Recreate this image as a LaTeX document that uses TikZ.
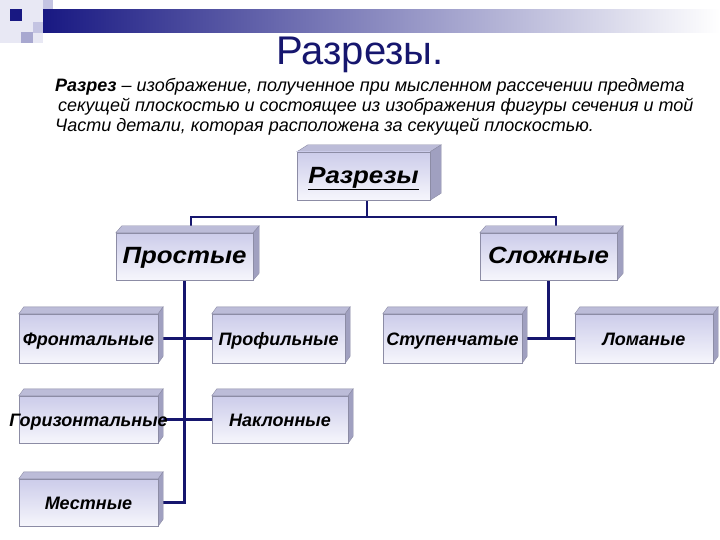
\documentclass[tikz,border=0pt]{standalone}
\usepackage{fontspec}
\setmainfont{Liberation Sans}
\usetikzlibrary{calc}
\pgfdeclarelayer{bg}\pgfdeclarelayer{mid}\pgfsetlayers{bg,mid,main}
\definecolor{navy}{RGB}{22,22,110}
\definecolor{barc}{RGB}{24,24,130}
\definecolor{barm}{RGB}{150,150,200}
\definecolor{facet}{RGB}{204,204,234}
\definecolor{faceb}{RGB}{246,246,252}
\definecolor{topc}{RGB}{188,188,216}
\definecolor{sidec}{RGB}{160,160,192}
\definecolor{edgec}{RGB}{140,140,165}
\definecolor{sq1}{RGB}{232,232,244}
\definecolor{sq2}{RGB}{168,168,208}
\definecolor{sq3}{RGB}{196,196,226}
\newcommand\bevel[3]{%
 \filldraw[topc,draw=edgec,line width=0.4pt] (#1.north west) -- ++(#2pt,#3pt) -- ([shift={(#2pt,#3pt)}]#1.north east) -- (#1.north east) -- cycle;
 \filldraw[sidec,draw=edgec,line width=0.4pt] (#1.north east) -- ++(#2pt,#3pt) -- ([shift={(#2pt,#3pt)}]#1.south east) -- (#1.south east) -- cycle;}
\newcommand\wide[1]{\scalebox{1.1}[1]{#1}}
\tikzset{
 bx/.style={draw=edgec, line width=0.4pt, top color=facet, bottom color=faceb, inner sep=0pt, text height=0.72em+7pt, text depth=0pt},
 bigtxt/.style={font=\fontsize{23.5}{28}\selectfont\bfseries\itshape},
 smtxt/.style={font=\fontsize{18}{21}\selectfont\bfseries\itshape},
 conn/.style={draw=navy, line width=2.2pt},
 para/.style={anchor=base west, inner sep=0pt, font=\fontsize{18}{21}\selectfont\itshape}
}
\begin{document}
\begin{tikzpicture}[x=1pt,y=-1pt]
\useasboundingbox (0,0) rectangle (720,540);
\begin{pgfonlayer}{bg}
\fill[white] (0,0) rectangle (720,540);
\end{pgfonlayer}
% top decoration
\fill[sq1] (0,0) rectangle (43,43);
\fill[sq3] (43,0) rectangle (53,22);
\shade[left color=barc, middle color=barm, right color=white] (43,10) rectangle (720,33);
\fill[barc] (10,9) rectangle (22,21);
\fill[sq2] (21,32) rectangle (33,43);
\fill[sq3] (33,22) rectangle (43,33);
% title
\node[anchor=base, inner sep=0pt, text=navy, font=\fontsize{40}{48}\selectfont] (title) at (360,65) {Разрезы.};
% definition
\node[para] (p1) at (55,92) {\textbf{Разрез} – изображение, полученное при мысленном рассечении предмета};
\node[para] (p2) at (58,112) {секущей плоскостью и состоящее из изображения фигуры сечения и той};
\node[para] (p3) at (55,132) {Части детали, которая расположена за секущей плоскостью.};
% boxes
\node[bx, bigtxt, minimum width=133pt, minimum height=48pt] (razr) at (363.5,176) {\wide{\underline{Разрезы}}};
\node[bx, bigtxt, minimum width=137pt, minimum height=47pt] (prost) at (184.5,256.5) {\wide{Простые}};
\node[bx, bigtxt, minimum width=137pt, minimum height=47pt] (slozh) at (548.5,256.5) {\wide{Сложные}};
\node[bx, smtxt, minimum width=139pt, minimum height=49pt] (front) at (88.5,338.5) {Фронтальные};
\node[bx, smtxt, minimum width=133pt, minimum height=49pt] (profil) at (278.5,338.5) {Профильные};
\node[bx, smtxt, minimum width=139pt, minimum height=49pt] (stup) at (452.5,338.5) {Ступенчатые};
\node[bx, smtxt, minimum width=138pt, minimum height=49pt] (loman) at (644,338.5) {Ломаные};
\node[bx, smtxt, minimum width=136pt, minimum height=47pt] (nakl) at (280,419.5) {Наклонные};
\node[bx, smtxt, minimum width=139pt, minimum height=47pt] (mest) at (88.5,502.5) {Местные};
\node[bx, smtxt, minimum width=139pt, minimum height=47pt] (gor) at (88.5,419.5) {\makebox[0pt]{Горизонтальные}};
\begin{pgfonlayer}{mid}
\bevel{razr}{11}{7}
\bevel{prost}{6}{7}
\bevel{slozh}{6}{7}
\bevel{front}{5}{7}
\bevel{profil}{5}{7}
\bevel{stup}{5}{7}
\bevel{loman}{5}{7}
\bevel{nakl}{5}{7}
\bevel{mest}{5}{7}
\bevel{gor}{5}{7}
\end{pgfonlayer}
% connectors
\begin{pgfonlayer}{bg}
\coordinate (hub) at ($(razr.south)+(3.5pt,-17pt)$);
\draw[conn] ([xshift=3.5pt]razr.south) -- (hub);
\draw[conn] (hub) -| ([xshift=6.5pt]prost.north);
\draw[conn] (hub) -| ([xshift=7.5pt]slozh.north);
\draw[conn] (prost.south) |- (mest.east);
\draw[conn] (front.east) -- (profil.west);
\draw[conn] (gor.east) -- (nakl.west);
\draw[conn] (slozh.south) -- (slozh.south |- stup.east);
\draw[conn] (stup.east) -- (loman.west);
\end{pgfonlayer}
\end{tikzpicture}
\end{document}
